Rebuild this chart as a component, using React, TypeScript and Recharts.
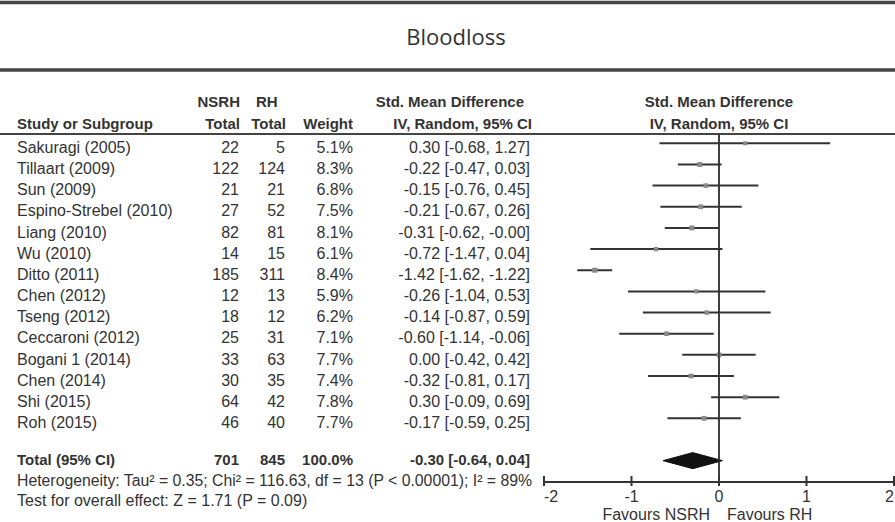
import React from 'react';
import { ComposedChart, Scatter, ErrorBar, XAxis, YAxis, ReferenceLine } from 'recharts';

const studies = [
  'Sakuragi (2005)', 'Tillaart (2009)', 'Sun (2009)', 'Espino-Strebel (2010)', 'Liang (2010)',
  'Wu (2010)', 'Ditto (2011)', 'Chen (2012)', 'Tseng (2012)', 'Ceccaroni (2012)',
  'Bogani 1 (2014)', 'Chen (2014)', 'Shi (2015)', 'Roh (2015)',
];
const nsrhTotal = [22, 122, 21, 27, 82, 14, 185, 12, 18, 25, 33, 30, 64, 46];
const rhTotal = [5, 124, 21, 52, 81, 15, 311, 13, 12, 31, 63, 35, 42, 40];
const weights = [5.1, 8.3, 6.8, 7.5, 8.1, 6.1, 8.4, 5.9, 6.2, 7.1, 7.7, 7.4, 7.8, 7.7];
const smd = [0.30, -0.22, -0.15, -0.21, -0.31, -0.72, -1.42, -0.26, -0.14, -0.60, 0.00, -0.32, 0.30, -0.17];
const ciLow = [-0.68, -0.47, -0.76, -0.67, -0.62, -1.47, -1.62, -1.04, -0.87, -1.14, -0.42, -0.81, -0.09, -0.59];
const ciHigh = [1.27, 0.03, 0.45, 0.26, -0.00, 0.04, -1.22, 0.53, 0.59, -0.06, 0.42, 0.17, 0.69, 0.25];

const totalLabel = 'Total (95% CI)';
const totalNsrh = 701;
const totalRh = 845;
const totalWeight = 100.0;
const totalSmd = -0.30;
const totalLow = -0.64;
const totalHigh = 0.04;
const TOTAL_ROW = 15;

const xTicks = [-2, -1, 0, 1, 2];
const nullEffect = 0;
const heterogeneityText = 'Heterogeneity: Tau\u00B2 = 0.35; Chi\u00B2 = 116.63, df = 13 (P < 0.00001); I\u00B2 = 89%';
const overallText = 'Test for overall effect: Z = 1.71 (P = 0.09)';
const favourLeft = 'Favours NSRH';
const favourRight = 'Favours RH';
const title = 'Bloodloss';

const FONT = '"Liberation Sans", Arial, sans-serif';
const TXT = '#333';
const DIAMOND_HALF = 0.38;
const Y_DOMAIN: [number, number] = [-0.44, 16.01];
const PLOT_TOP = 134;

const fmt = (v: number) => ((v < 0 || Object.is(v, -0)) ? '-' : '') + Math.abs(v).toFixed(2);
const ciText = (m: number, l: number, h: number) => `${fmt(m)} [${fmt(l)}, ${fmt(h)}]`;

const scatterData = studies.map((s, i) => ({
  x: smd[i],
  y: i,
  err: [smd[i] - ciLow[i], ciHigh[i] - smd[i]],
  w: weights[i],
}));

// outline of the pooled-estimate diamond, traced in order
const diamondData = [
  { x: totalLow, y: TOTAL_ROW },
  { x: totalSmd, y: TOTAL_ROW - DIAMOND_HALF },
  { x: totalHigh, y: TOTAL_ROW },
  { x: totalSmd, y: TOTAL_ROW + DIAMOND_HALF },
  { x: totalLow, y: TOTAL_ROW },
];

const rowTicks = [...studies.map((_, i) => i), TOTAL_ROW];

const RowTick = (props: any) => {
  const { y, payload } = props;
  const v = payload.value;
  const by = y + 9.7;
  if (v === TOTAL_ROW) {
    const common = { fontFamily: FONT, fontSize: 15, fontWeight: 700, fill: TXT } as any;
    const ty = by - 5;
    return (
      <g>
        <text x={17} y={ty} {...common}>{totalLabel}</text>
        <text x={239} y={ty} textAnchor="end" {...common}>{totalNsrh}</text>
        <text x={285} y={ty} textAnchor="end" {...common}>{totalRh}</text>
        <text x={353} y={ty} textAnchor="end" {...common}>{totalWeight.toFixed(1)}%</text>
        <text x={530} y={ty} textAnchor="end" {...common}>{ciText(totalSmd, totalLow, totalHigh)}</text>
      </g>
    );
  }
  const i = v as number;
  const common = { fontFamily: FONT, fontSize: 16, fill: TXT } as any;
  return (
    <g>
      <text x={17} y={by} {...common}>{studies[i]}</text>
      <text x={239} y={by} textAnchor="end" {...common}>{nsrhTotal[i]}</text>
      <text x={285} y={by} textAnchor="end" {...common}>{rhTotal[i]}</text>
      <text x={353} y={by} textAnchor="end" {...common}>{weights[i].toFixed(1)}%</text>
      <text x={530} y={by} textAnchor="end" {...common}>{ciText(smd[i], ciLow[i], ciHigh[i])}</text>
    </g>
  );
};

// x-axis tick: tick mark, label, and (for the null effect) the vertical line of no effect
const XTick = (props: any) => {
  const { x, y, payload } = props;
  const v = payload.value;
  const anchor = v === xTicks[0] ? 'start' : v === xTicks[xTicks.length - 1] ? 'end' : 'middle';
  return (
    <g>
      {v === nullEffect && (
        <line x1={x} x2={x} y1={PLOT_TOP} y2={y} stroke="#333" strokeWidth={1.5} />
      )}
      <line x1={x} x2={x} y1={y - 6} y2={y + 4} stroke="#333" strokeWidth={2} />
      <text x={x} y={y + 20} textAnchor={anchor} fontFamily={FONT} fontSize={16} fill={TXT}>{v}</text>
    </g>
  );
};

const SquareShape = (props: any) => {
  const { cx, cy, payload } = props;
  const s = 2.5 + payload.w * 0.3;
  return <rect x={cx - s / 2} y={cy - s / 2} width={s} height={s} fill="#8a8a8a" />;
};

const NoShape = () => <g />;

export default function App() {
  const hb = { fontFamily: FONT, fontSize: 15, fontWeight: 700, fill: TXT } as any;
  return (
    <div style={{ position: 'relative', width: 895, height: 522, background: '#fff' }}>
      <style>{'body{margin:0;background:#fff;}'}</style>
      <ComposedChart width={895} height={522} margin={{ top: PLOT_TOP, right: 1, bottom: 0, left: 0 }}>
        <XAxis
          type="number"
          dataKey="x"
          domain={[-2, 2]}
          allowDataOverflow
          ticks={xTicks}
          interval={0}
          height={40}
          tickSize={0}
          tickMargin={0}
          tickLine={false}
          axisLine={{ stroke: '#333', strokeWidth: 2 }}
          tick={<XTick />}
        />
        <YAxis
          type="number"
          dataKey="y"
          domain={Y_DOMAIN}
          allowDataOverflow
          reversed
          ticks={rowTicks}
          interval={0}
          width={544}
          axisLine={false}
          tickLine={false}
          tick={<RowTick />}
        />
        <ReferenceLine x={nullEffect} stroke="#333" strokeWidth={1.5} />
        <Scatter
          data={diamondData}
          line={{ stroke: '#111', strokeWidth: 1, fill: '#111' }}
          lineType="joint"
          shape={<NoShape />}
          isAnimationActive={false}
        />
        <Scatter data={scatterData} shape={<SquareShape />} isAnimationActive={false}>
          <ErrorBar dataKey="err" direction="x" width={0} stroke="#333" strokeWidth={2} isAnimationActive={false} />
        </Scatter>
      </ComposedChart>
      <svg width={895} height={522} style={{ position: 'absolute', left: 0, top: 0, pointerEvents: 'none' }}>
        <line x1={0} x2={895} y1={2.5} y2={2.5} stroke="#444" strokeWidth={3.5} />
        <text x={456} y={45} textAnchor="middle" fontFamily='"Open Sans", sans-serif' fontSize={22} fill={TXT}>{title}</text>
        <line x1={0} x2={895} y1={70} y2={70} stroke="#444" strokeWidth={3.5} />
        <text x={17} y={129} {...hb}>Study or Subgroup</text>
        <text x={240} y={107} textAnchor="end" {...hb}>NSRH</text>
        <text x={240} y={129} textAnchor="end" {...hb}>Total</text>
        <text x={256} y={107} {...hb}>RH</text>
        <text x={286} y={129} textAnchor="end" {...hb}>Total</text>
        <text x={353} y={129} textAnchor="end" {...hb}>Weight</text>
        <text x={524} y={107} textAnchor="end" {...hb}>Std. Mean Difference</text>
        <text x={532} y={129} textAnchor="end" {...hb}>IV, Random, 95% CI</text>
        <text x={719} y={107} textAnchor="middle" {...hb}>Std. Mean Difference</text>
        <text x={719} y={129} textAnchor="middle" {...hb}>IV, Random, 95% CI</text>
        <line x1={0} x2={895} y1={134} y2={134} stroke="#444" strokeWidth={2} />
        <text x={17} y={486} fontFamily={FONT} fontSize={15.8} fill={TXT}>{heterogeneityText}</text>
        <text x={17} y={506} fontFamily={FONT} fontSize={16} fill={TXT}>{overallText}</text>
        <text x={710} y={520} textAnchor="end" fontFamily={FONT} fontSize={16} fill={TXT}>{favourLeft}</text>
        <text x={727} y={520} fontFamily={FONT} fontSize={16} fill={TXT}>{favourRight}</text>
      </svg>
    </div>
  );
}
